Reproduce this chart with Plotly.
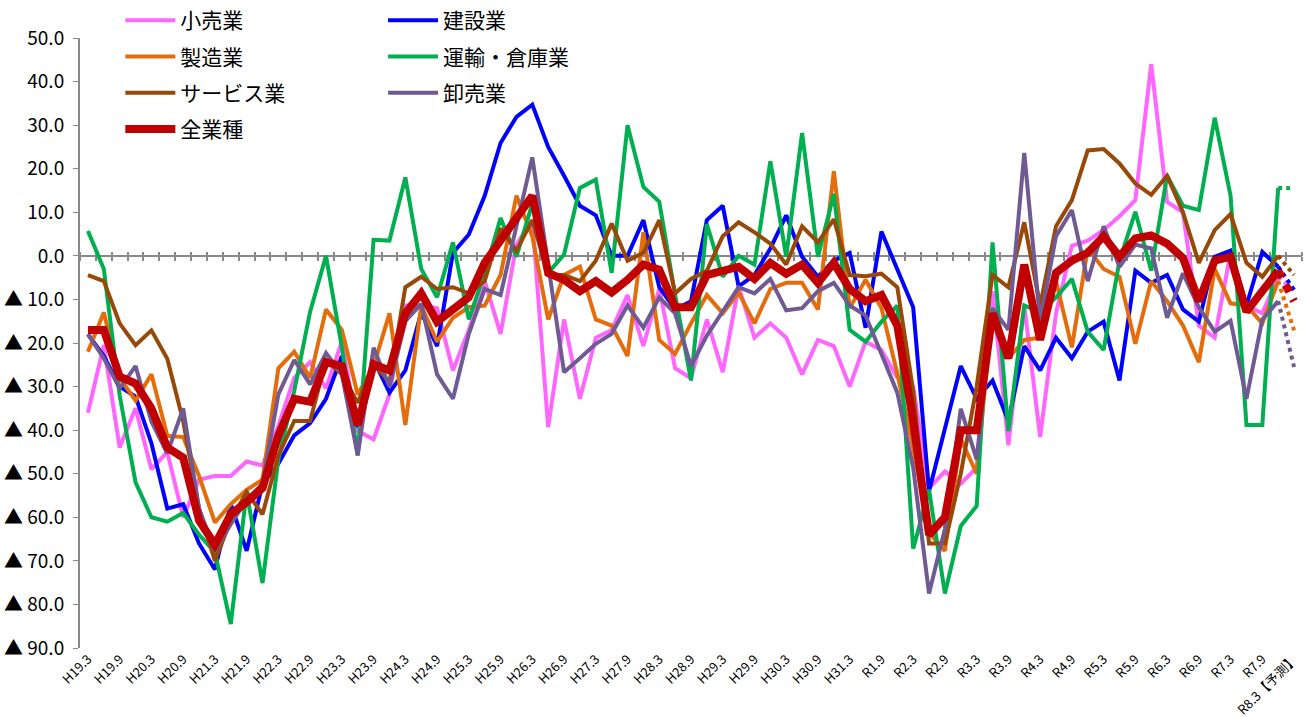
import plotly.graph_objects as go

categories = [
    "H19.3", "H19.6", "H19.9", "H19.12", "H20.3", "H20.6", "H20.9", "H20.12",
    "H21.3", "H21.6", "H21.9", "H21.12", "H22.3", "H22.6", "H22.9", "H22.12",
    "H23.3", "H23.6", "H23.9", "H23.12", "H24.3", "H24.6", "H24.9", "H24.12",
    "H25.3", "H25.6", "H25.9", "H25.12", "H26.3", "H26.6", "H26.9", "H26.12",
    "H27.3", "H27.6", "H27.9", "H27.12", "H28.3", "H28.6", "H28.9", "H28.12",
    "H29.3", "H29.6", "H29.9", "H29.12", "H30.3", "H30.6", "H30.9", "H30.12",
    "H31.3", "R1.6", "R1.9", "R1.12", "R2.3", "R2.6", "R2.9", "R2.12",
    "R3.3", "R3.6", "R3.9", "R3.12", "R4.3", "R4.6", "R4.9", "R4.12",
    "R5.3", "R5.6", "R5.9", "R5.12", "R6.3", "R6.6", "R6.9", "R6.12",
    "R7.3", "R7.6", "R7.9", "R7.12", "R8.3",
]

tick_labels = [
    "H19.3", "H19.9", "H20.3", "H20.9", "H21.3", "H21.9", "H22.3", "H22.9",
    "H23.3", "H23.9", "H24.3", "H24.9", "H25.3", "H25.9", "H26.3", "H26.9",
    "H27.3", "H27.9", "H28.3", "H28.9", "H29.3", "H29.9", "H30.3", "H30.9",
    "H31.3", "R1.9", "R2.3", "R2.9", "R3.3", "R3.9", "R4.3", "R4.9",
    "R5.3", "R5.9", "R6.3", "R6.9", "R7.3", "R7.9", "R8.3【予測】",
]

# actual values H19.3 .. R7.12 (76 quarters)
retail = [
    -36, -20.5, -44, -35, -49, -45, -60, -51.4, -50.5, -50.5, -47.2, -48.1,
    -39, -28, -24.4, -30.4, -19.7, -40.2, -42.1, -31.8, -11.4, -11.4, -12, -26.3,
    -17, -5.8, -17.9, 2.6, 8.2, -39.3, -14.6, -32.8, -18.8, -17, -9, -20.7,
    -7.6, -25.8, -28.1, -14.6, -26.7, -7, -18.8, -15.5, -18.8, -27.2, -19.3, -20.7,
    -30, -19.7, -21.6, -28, -30, -53.3, -49.5, -52.3, -48.6, -8.1, -43.5, -11.4,
    -41.6, -13.2, 2.3, 3.5, 5.9, 9.1, 12.8, 44, 12.4, 10, -16, -18.8,
    0.7, -11.4, -13.2, -4.8,
]
construction = [
    -18, -23, -30, -32.3, -43, -58, -57, -66, -72, -57, -67.7, -52.3,
    -47.7, -41.2, -38.4, -32.8, -23, -39.3, -23.9, -31.4, -26.3, -13, -20.7, 0.7,
    4.9, 13.8, 25.9, 31.9, 34.7, 25, 18.4, 11.5, 9.3, 0, 0, 8.2,
    -7.2, -12.3, -10.4, 8.2, 11.5, -7, -4.4, 1.7, 9.3, -0.2, -4.8, -1.1,
    0.7, -16.5, 5.6, -3, -11.8, -54, -39.8, -25.3, -32.8, -28.6, -37.9, -20.7,
    -26.3, -18.8, -23.5, -17.4, -15.1, -28.6, -3.4, -6.2, -4.4, -12.3, -15.1, -0.2,
    1.2, -11.4, 0.9, -2.5,
]
manufacturing = [
    -22, -13, -28, -33.2, -27.2, -41.3, -41.6, -50.5, -61.2, -57, -53.7, -51.4,
    -25.8, -22, -28, -12.3, -17, -31.8, -25.3, -13.2, -38.8, -11.4, -19.7, -14.2,
    -11.8, -11.4, -4.4, 13.8, 4.5, -14.6, -4.4, -2.5, -14.6, -16, -23, 5.4,
    -19.3, -22.5, -15.5, -9, -13.2, -8.4, -15.5, -7.6, -6.2, -6.2, -12.3, 19.4,
    -12, -5.5, -12, -27, -44, -63.5, -67.7, -42, -50, -12.3, -23.5, -19.3,
    -18.8, -5.8, -21, 1.7, -3, -4.8, -20.2, -5.8, -10.4, -16, -24.4, -3,
    -10.9, -11.4, -15.5, -5.8,
]
transport = [
    5.7, -3, -32, -52, -60, -61, -59, -64, -68, -84.5, -54.2, -75.1,
    -46.7, -31, -12.8, 0, -21, -45.8, 3.7, 3.5, 18, -3, -9.5, 3.1,
    -14.6, -3.9, 8.7, -0.2, 12, -3.9, 0.3, 15.6, 17.5, -3.9, 30, 15.8,
    12.4, -9, -28.6, 7.3, -4.8, 0, -2, 21.7, -0.2, 28.2, -0.2, 14.2,
    -17, -19.7, -15.1, -11.4, -67.2, -53.7, -77.5, -62, -57.4, 3.1, -40.2, -11.4,
    -13, -9.5, -5.3, -17.4, -21.6, -1.1, 10.1, -3.4, 18.4, 11.5, 10.5, 31.7,
    13.8, -38.8, -38.8, 15.6,
]
services = [
    -4.4, -5.8, -15.5, -20.5, -17.1, -23.6, -37.9, -58, -70, -60.7, -54.2, -59.3,
    -45.8, -37.9, -37.9, -23.9, -27.2, -33.7, -24.9, -29, -7.2, -4.8, -7.6, -7.2,
    -8.6, -5.8, 6.3, 1.2, 8.2, -4.4, -4.4, -5.8, -1.1, 7.4, -1.1, 0.7,
    8.2, -8.6, -5.3, -3.4, 4.5, 7.7, 5.4, 2.8, -2, 6.8, 3.1, 8.4,
    -4.4, -4.7, -4.1, -7.2, -31, -66, -66, -50, -30, -4.4, -7.2, 7.7,
    -11.4, 6.8, 12.8, 24.2, 24.5, 21.2, 16.6, 14, 18.4, 10, -1.6, 5.9,
    9.6, -1.6, -4.8, 0,
]
wholesale = [
    -18, -23.5, -30.4, -25.3, -38, -45.3, -35, -58, -67.7, -61.6, -56, -52.3,
    -31.8, -23.9, -29.5, -22.3, -27.2, -45.8, -21.1, -30, -15, -11, -27.2, -32.8,
    -17.9, -7.6, -9, 7.3, 22.6, -2, -26.7, -23.5, -20.2, -17.9, -11.4, -16.5,
    -9.5, -13.2, -25.3, -18.3, -12.8, -7.2, -8.6, -5.3, -12.5, -12, -8.1, -6.2,
    -11.4, -13.7, -22.5, -31.4, -48.6, -77.5, -62.6, -35.1, -46.7, -12, -17, 23.6,
    -15, 4.5, 10.5, -5.8, 6.8, -2.5, 2.6, 1.7, -14.2, -4, -11.8, -17.4,
    -14.9, -32.8, -14.6, -10.4,
]
all_industries = [
    -17, -17, -27.7, -29.3, -35, -44, -46.3, -60.7, -66.3, -59.3, -56.5, -53.3,
    -41.2, -32.8, -33.5, -24.4, -25.3, -38.8, -24.9, -26.3, -13.2, -8.6, -15.1, -12.3,
    -9.5, -1.6, 3.5, 9.1, 13.8, -3.9, -5.5, -8.1, -5.8, -8.4, -5.5, -2,
    -3.2, -11.8, -11.8, -4.4, -3.4, -2.5, -5.3, -1.6, -4.1, -2, -6.2, -1.6,
    -7.6, -10.4, -9, -16, -38, -64, -60, -40, -40, -13.2, -23.5, -2,
    -19.3, -3.9, -1.1, 0.7, 4.5, -0.2, 4, 4.7, 2.8, -0.5, -10.4, -1.1,
    -0.2, -12.8, -8.1, -3.4,
]

# forecast values for R8.3
forecast = {
    "小売業": -8,
    "建設業": -7.8,
    "製造業": -17.1,
    "運輸・倉庫業": 15.5,
    "サービス業": -4.4,
    "卸売業": -25.5,
    "全業種": -10.4,
}

series = [
    ("小売業", retail, "#FF66FF", 4, "legend"),
    ("建設業", construction, "#0000FF", 4, "legend2"),
    ("製造業", manufacturing, "#E46C0A", 4, "legend"),
    ("運輸・倉庫業", transport, "#00B050", 4, "legend2"),
    ("サービス業", services, "#984807", 4, "legend"),
    ("卸売業", wholesale, "#705A94", 4, "legend2"),
    ("全業種", all_industries, "#C00000", 8, "legend"),
]

FONT = "Noto Sans CJK JP"
fig = go.Figure()

n_act = len(all_industries)
for name, vals, color, w, leg in series:
    fig.add_trace(go.Scatter(
        x=categories[:n_act], y=vals, mode="lines", name=name,
        line=dict(color=color, width=w), legend=leg, legendgroup=name,
    ))
    fig.add_trace(go.Scatter(
        x=categories[n_act - 1:], y=[vals[-1], forecast[name]], mode="lines",
        line=dict(color=color, width=w, dash="dot"), showlegend=False,
        legendgroup=name, hoverinfo="skip",
    ))

# dummy traces for the zero-line tick axes
bounds = [k - 0.5 for k in range(len(categories) + 1)]
for ax in ("x2", "x3"):
    fig.add_trace(go.Scatter(x=[0], y=[0], xaxis=ax, mode="markers",
                             marker=dict(opacity=0), showlegend=False,
                             hoverinfo="skip"))

y_vals = list(range(50, -100, -10))
y_text = [f"{v:.1f}" if v >= 0 else f"▲ {abs(v):.1f}" for v in y_vals]
ymin, ymax = -90, 50

H, T, B = 717, 38, 69
plot_h = H - B            # margin top 0
dom_top = (H - B - T) / plot_h
zero_pos = dom_top * (0 - ymin) / (ymax - ymin)
xr = [-0.5, len(categories) - 0.5]

tick_text = list(tick_labels)
tick_vals = [t.replace("【予測】", "") for t in tick_labels]

GRAY = "#898989"
fig.update_layout(
    width=1315, height=H,
    margin=dict(l=80, r=13, t=0, b=B, autoexpand=False),
    paper_bgcolor="white", plot_bgcolor="white",
    font=dict(family=FONT, color="#000000"),
    xaxis=dict(type="category", categoryarray=categories, range=xr,
               tickvals=tick_vals, ticktext=tick_text, tickangle=-45,
               tickfont=dict(size=13, family=FONT), showgrid=False,
               showline=False, ticks="", zeroline=False, automargin=False),
    xaxis2=dict(overlaying="x", anchor="free", position=zero_pos, range=xr,
                tickvals=bounds, ticks="outside", ticklen=4, tickwidth=1.5,
                tickcolor=GRAY, showticklabels=False, showline=True,
                linecolor=GRAY, linewidth=2, showgrid=False,
                zeroline=False, layer="below traces", automargin=False),
    xaxis3=dict(overlaying="x", anchor="free", position=zero_pos, side="top",
                range=xr, tickvals=bounds, ticks="outside", ticklen=4,
                tickwidth=1.5, tickcolor=GRAY, showticklabels=False,
                showline=False, showgrid=False, zeroline=False,
                layer="below traces", automargin=False),
    yaxis=dict(domain=[0, dom_top], range=[ymin, ymax], tickvals=y_vals,
               ticktext=y_text, tickfont=dict(size=19, family=FONT),
               showgrid=False, zeroline=False, showline=True,
               linecolor=GRAY, linewidth=2, ticks="outside", ticklen=5,
               tickcolor=GRAY, layer="below traces", automargin=False,
               ticklabelstandoff=5),
    legend=dict(x=0.033, y=1.0, xanchor="left", yanchor="top",
                orientation="v", font=dict(size=21, family=FONT),
                bgcolor="rgba(0,0,0,0)", itemwidth=50, tracegroupgap=6),
    legend2=dict(x=0.248, y=1.0, xanchor="left", yanchor="top",
                 orientation="v", font=dict(size=21, family=FONT),
                 bgcolor="rgba(0,0,0,0)", itemwidth=50, tracegroupgap=6),
    showlegend=True,
)

fig.write_html("out.html", config={"displayModeBar": False},
               post_script="document.body.style.margin='0';")
